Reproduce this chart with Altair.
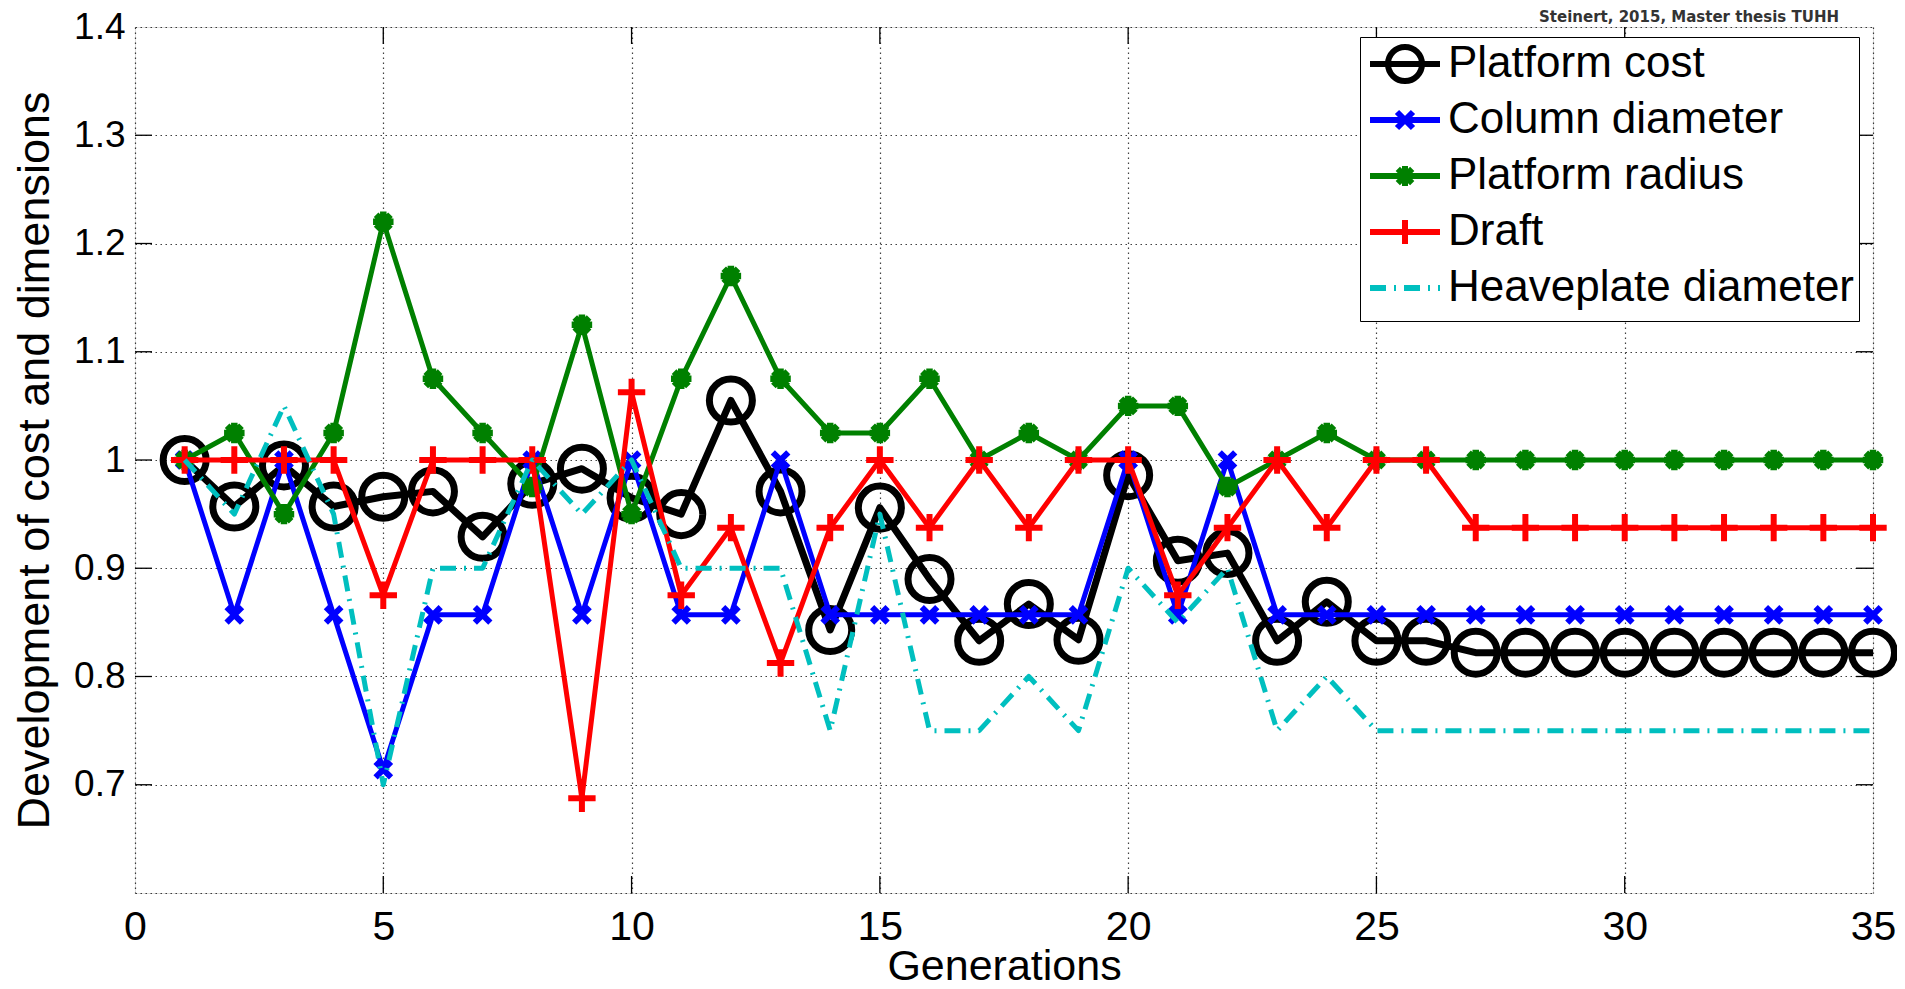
import altair as alt
import pandas as pd

# ---------------- data ----------------
generations = list(range(1, 36))

series_names = ["Platform cost", "Column diameter", "Platform radius", "Draft", "Heaveplate diameter"]

platform_cost = [1.0, 0.957, 0.995, 0.957, 0.966, 0.971, 0.929, 0.978, 0.992, 0.965,
                 0.95, 1.055, 0.971, 0.843, 0.956, 0.89, 0.833, 0.867, 0.834, 0.986,
                 0.907, 0.914, 0.833, 0.869, 0.833, 0.833, 0.822, 0.822, 0.822, 0.822,
                 0.822, 0.822, 0.822, 0.822, 0.822]

column_diameter = [1.0, 0.857, 1.0, 0.857, 0.714, 0.857, 0.857, 1.0, 0.857, 1.0,
                   0.857, 0.857, 1.0, 0.857, 0.857, 0.857, 0.857, 0.857, 0.857, 1.0,
                   0.857, 1.0, 0.857, 0.857, 0.857, 0.857, 0.857, 0.857, 0.857, 0.857,
                   0.857, 0.857, 0.857, 0.857, 0.857]

platform_radius = [1.0, 1.025, 0.95, 1.025, 1.22, 1.075, 1.025, 0.975, 1.125, 0.95,
                   1.075, 1.17, 1.075, 1.025, 1.025, 1.075, 1.0, 1.025, 1.0, 1.05,
                   1.05, 0.975, 1.0, 1.025, 1.0, 1.0, 1.0, 1.0, 1.0, 1.0,
                   1.0, 1.0, 1.0, 1.0, 1.0]

draft = [1.0, 1.0, 1.0, 1.0, 0.875, 1.0, 1.0, 1.0, 0.6875, 1.0625,
         0.875, 0.9375, 0.8125, 0.9375, 1.0, 0.9375, 1.0, 0.9375, 1.0, 1.0,
         0.875, 0.9375, 1.0, 0.9375, 1.0, 1.0, 0.9375, 0.9375, 0.9375, 0.9375,
         0.9375, 0.9375, 0.9375, 0.9375, 0.9375]

heaveplate_diameter = [1.0, 0.95, 1.05, 0.95, 0.7, 0.9, 0.9, 1.0, 0.95, 1.0,
                       0.9, 0.9, 0.9, 0.75, 0.95, 0.75, 0.75, 0.8, 0.75, 0.9,
                       0.85, 0.9, 0.75, 0.8, 0.75, 0.75, 0.75, 0.75, 0.75, 0.75,
                       0.75, 0.75, 0.75, 0.75, 0.75]

x_tick_values = [0, 5, 10, 15, 20, 25, 30, 35]
y_tick_values = [0.6, 0.7, 0.8, 0.9, 1.0, 1.1, 1.2, 1.3, 1.4]
x_inner_ticks = [5, 10, 15, 20, 25, 30]
y_inner_ticks = [0.7, 0.8, 0.9, 1.0, 1.1, 1.2, 1.3]

credit_text = ["Steinert, 2015, Master thesis TUHH"]

all_values = [platform_cost, column_diameter, platform_radius, draft, heaveplate_diameter]
rows = []
for name, vals in zip(series_names, all_values):
    for g, v in zip(generations, vals):
        rows.append({"gen": g, "value": v, "series": name})
df = pd.DataFrame(rows)

# ---------------- styles ----------------
colors = ["#000000", "#0000ff", "#008000", "#ff0000", "#00bfbf"]
FONT = "Liberation Sans"
W, H = 1738, 866

x_path = "M-1,-1L1,1M-1,1L1,-1"
ast_path = "M-1,0L1,0M0,-1L0,1M-0.7,-0.7L0.7,0.7M-0.7,0.7L0.7,-0.7"
plus_path = "M-1,0L1,0M0,-1L0,1"

line_styles = {
    "Platform cost": dict(strokeWidth=7),
    "Column diameter": dict(strokeWidth=5),
    "Platform radius": dict(strokeWidth=5),
    "Draft": dict(strokeWidth=5),
    "Heaveplate diameter": dict(strokeWidth=5, strokeDash=[16, 8, 2, 8]),
}
point_styles = {
    "Platform cost": dict(shape="circle", size=1850, strokeWidth=7),
    "Column diameter": dict(shape=x_path, size=240, strokeWidth=6),
    "Platform radius": dict(shape=ast_path, size=420, strokeWidth=6.5),
    "Draft": dict(shape=plus_path, size=750, strokeWidth=6),
}

# legend symbol paths (unit = 20 px with symbolSize 1600).
# zero-length end points at y = +-0.85 give every row the same height.
pad_pts = "M1.75,-0.85L1.75,-0.85M1.75,0.85L1.75,0.85"
circ = "M-0.85,0A0.85,0.85,0,0,1,0,-0.85A0.85,0.85,0,0,1,0.85,0A0.85,0.85,0,0,1,0,0.85A0.85,0.85,0,0,1,-0.85,0"
leg_shapes = {
    "Platform cost": "M-1.75,0H1.75" + circ + pad_pts,
    "Column diameter": "M-1.75,0H1.75M-0.4,-0.4L0.4,0.4M-0.4,0.4L0.4,-0.4" + pad_pts,
    "Platform radius": "M-1.75,0H1.75M0,-0.5V0.5M-0.36,-0.36L0.36,0.36M-0.36,0.36L0.36,-0.36" + pad_pts,
    "Draft": "M-1.75,0H1.75M0,-0.6V0.6" + pad_pts,
    "Heaveplate diameter": "M-1.75,0H1.75" + pad_pts,
}
shape_expr = "".join(f"datum.value === '{k}' ? '{v}' : " for k, v in leg_shapes.items()) + "'M-1.75,0H1.75'"
dash_expr = "datum.value === 'Heaveplate diameter' ? [16,8,2,8] : [1000,0]"

legend = alt.Legend(
    title=None, orient="none", legendX=1225, legendY=10,
    padding=4, strokeColor="#000", fillColor="#fff",
    labelFont=FONT, labelFontSize=44, labelColor="#000", labelLimit=0,
    labelExpr="datum.label + ' '",
    symbolSize=1600, symbolOffset=18, labelOffset=20, rowPadding=-2,
    symbolType={"expr": shape_expr},
    symbolStrokeWidth=6,
    symbolDash={"expr": dash_expr},
    symbolFillColor="transparent",
)

x_scale = alt.Scale(domain=[0, 35], nice=False, zero=False)
y_scale = alt.Scale(domain=[0.6, 1.4], nice=False, zero=False)
color_scale = alt.Scale(domain=series_names, range=colors)

x_axis = alt.Axis(values=x_tick_values, title="Generations", grid=True,
                  gridDash=[1.5, 3.5], gridColor="#000", gridOpacity=0.75, gridWidth=1.2,
                  ticks=False, tickSize=0, domain=False,
                  labelFont=FONT, labelFontSize=41, labelColor="#000", labelPadding=14,
                  labelFlush=False,
                  titleFont=FONT, titleFontSize=43, titleFontWeight="normal",
                  titleColor="#000", titlePadding=-2)
y_axis = alt.Axis(values=y_tick_values, title="Development of cost and dimensions",
                  grid=True, gridDash=[1.5, 3.5], gridColor="#000", gridOpacity=0.75,
                  gridWidth=1.2, ticks=False, tickSize=0, domain=False,
                  labelExpr="datum.value < 0.65 ? '' : format(datum.value, '.1~f')",
                  labelFont=FONT, labelFontSize=37, labelColor="#000", labelPadding=10,
                  labelFlush=False,
                  titleFont=FONT, titleFontSize=45, titleFontWeight="normal",
                  titleColor="#000", titlePadding=16)

base = alt.Chart(df)
layers = []

# inward tick marks (MATLAB style, all four sides)
ydf = pd.DataFrame({"v": y_inner_ticks})
xdf = pd.DataFrame({"g": x_inner_ticks})
tick_style = dict(color="#000", strokeWidth=1.3)
layers.append(alt.Chart(ydf).mark_rule(**tick_style).encode(
    y=alt.Y("v:Q", scale=y_scale, axis=y_axis), x=alt.value(0), x2=alt.value(17)))
layers.append(alt.Chart(ydf).mark_rule(**tick_style).encode(
    y=alt.Y("v:Q", scale=y_scale, axis=y_axis), x=alt.value(W - 17), x2=alt.value(W)))
layers.append(alt.Chart(xdf).mark_rule(**tick_style).encode(
    x=alt.X("g:Q", scale=x_scale, axis=x_axis), y=alt.value(H - 17), y2=alt.value(H)))
layers.append(alt.Chart(xdf).mark_rule(**tick_style).encode(
    x=alt.X("g:Q", scale=x_scale, axis=x_axis), y=alt.value(0), y2=alt.value(17)))

for name in series_names:
    sub = base.transform_filter(alt.datum.series == name)
    line = sub.mark_line(strokeJoin="round", **line_styles[name]).encode(
        x=alt.X("gen:Q", scale=x_scale, axis=x_axis),
        y=alt.Y("value:Q", scale=y_scale, axis=y_axis),
        color=alt.Color("series:N", scale=color_scale, legend=legend),
    )
    layers.append(line)
    if name in point_styles:
        pts = sub.mark_point(filled=False, opacity=1, **point_styles[name]).encode(
            x=alt.X("gen:Q", scale=x_scale, axis=x_axis),
            y=alt.Y("value:Q", scale=y_scale, axis=y_axis),
            color=alt.Color("series:N", scale=color_scale, legend=legend),
        )
        layers.append(pts)

# credit text above the top-right corner of the axes
credit = alt.Chart(pd.DataFrame({"t": credit_text})).mark_text(
    align="right", baseline="alphabetic", fontSize=15, font="DejaVu Sans",
    fontWeight="bold", color="#333",
).encode(text="t:N", x=alt.value(W - 34), y=alt.value(-5))
layers.append(credit)

chart = alt.layer(*layers).properties(
    width=W, height=H,
    padding={"left": 127, "top": 19, "right": 24, "bottom": 94},
    autosize=alt.AutoSizeParams(type="none"),
).configure_view(stroke="#000", strokeWidth=1.5).configure(background="#ffffff")

chart.save("out.html", embed_options={"renderer": "svg", "actions": False})
